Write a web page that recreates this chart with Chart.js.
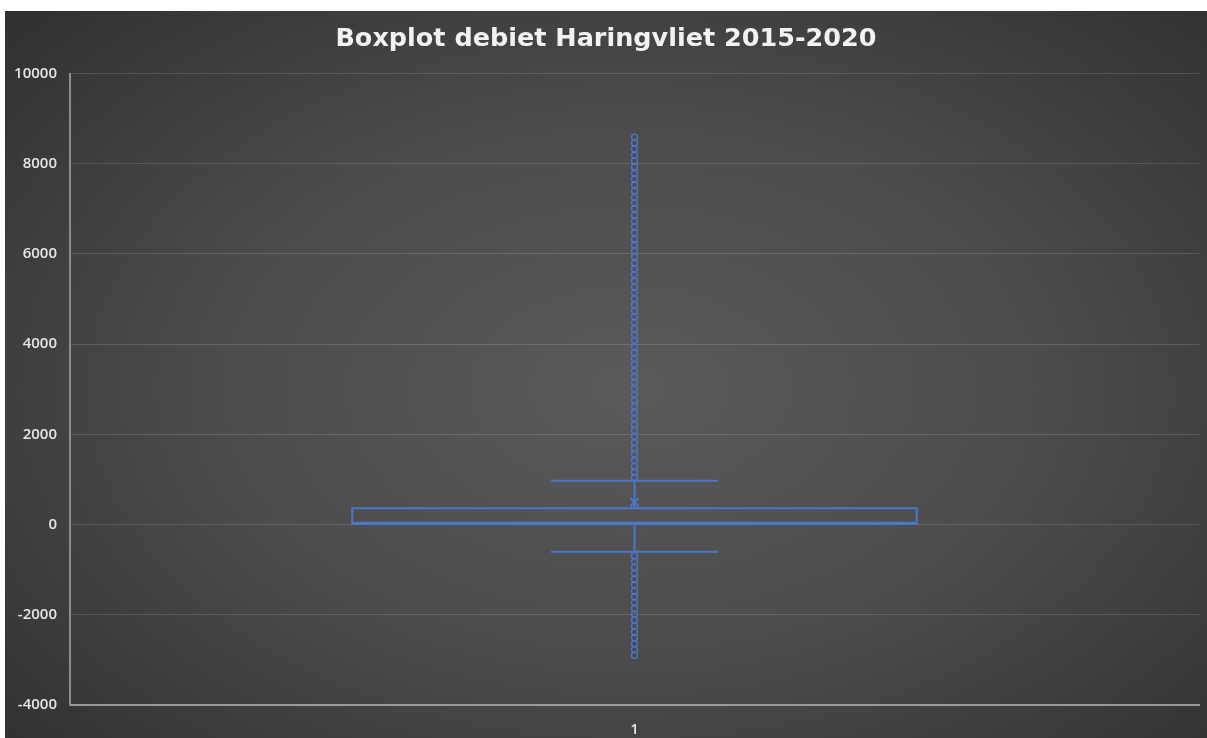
<!DOCTYPE html>
<html>
<head>
<meta charset="utf-8">
<script src="https://cdn.jsdelivr.net/npm/chart.js@4"></script>
<style>
  body { margin: 0; background: #ffffff; }
  #wrap {
    position: absolute; left: 5px; top: 11px; width: 1202px; height: 727px;
    background: radial-gradient(ellipse 75% 80% at 52% 52%, #5a5a5a 0%, #4c4c4c 45%, #2d2d2d 100%);
  }
</style>
</head>
<body>
<div id="wrap"><canvas id="boxChart" width="1202" height="727"></canvas></div>
<script>
// category and box statistics
const categories = ['1'];
const q1 = 15;
const median = 35;
const q3 = 360;
const mean = 495;
const whiskerHigh = 970;
const whiskerLow = -600;

// outliers above and below the whiskers
const outliersHigh = [1040, 1160, 1290, 1420, 1560, 1690, 1820, 1950, 2090, 2220, 2350, 2480, 2620, 2750,
  2880, 3010, 3150, 3280, 3410, 3550, 3680, 3810, 3940, 4080, 4210, 4340, 4480, 4610, 4740, 4870,
  5010, 5140, 5270, 5400, 5540, 5670, 5800, 5940, 6070, 6200, 6330, 6470, 6600, 6730, 6860, 7000,
  7130, 7260, 7400, 7530, 7660, 7790, 7930, 8060, 8190, 8330, 8460, 8590];
const outliersLow = [-690, -820, -950, -1080, -1210, -1340, -1470, -1600, -1730, -1860, -1990, -2120,
  -2250, -2380, -2510, -2640, -2770, -2900];

const yTicks = [-4000, -2000, 0, 2000, 4000, 6000, 8000, 10000];

const blue = '#4a76cc';
const boxHalf = 0.25;
const capHalf = 0.074;

// a polyline on the hidden linear axis that spans the one category
function path(points, width) {
    return { xAxisID: 'xl', data: points.map(p => ({ x: p[0], y: p[1] })),
        borderColor: blue, borderWidth: width || 2, pointRadius: 0, fill: false, tension: 0 };
}

const outlierPoints = outliersHigh.concat(outliersLow).map(v => ({ x: 0, y: v }));

new Chart(document.getElementById('boxChart'), {
    type: 'line',
    data: {
        labels: categories,
        datasets: [
            path([[-boxHalf, q1], [boxHalf, q1], [boxHalf, q3], [-boxHalf, q3], [-boxHalf, q1]]),
            path([[-boxHalf, median], [boxHalf, median]], 2.5),
            path([[0, q3], [0, whiskerHigh]]),
            path([[0, q1], [0, whiskerLow]]),
            path([[-capHalf, whiskerHigh], [capHalf, whiskerHigh]]),
            path([[-capHalf, whiskerLow], [capHalf, whiskerLow]]),
            {
                xAxisID: 'xl', showLine: false,
                data: outlierPoints,
                pointStyle: 'circle', pointRadius: 3, borderWidth: 1.3,
                borderColor: blue, backgroundColor: 'rgba(0,0,0,0)'
            },
            {
                xAxisID: 'xl', showLine: false,
                data: [{ x: 0, y: mean }],
                pointStyle: 'crossRot', pointRadius: 6, borderWidth: 2,
                borderColor: blue
            }
        ]
    },
    options: {
        responsive: false,
        animation: false,
        layout: { padding: { left: 0, right: 0, top: 0, bottom: 0 } },
        plugins: {
            legend: { display: false },
            tooltip: { enabled: false },
            title: {
                display: true,
                text: 'Boxplot debiet Haringvliet 2015-2020',
                color: '#f2f2f2',
                font: { family: 'DejaVu Sans', size: 25.5, weight: 'bold' },
                padding: { top: 13, bottom: 19 }
            }
        },
        scales: {
            x: {
                type: 'category',
                offset: true,
                grid: { display: false },
                border: { color: '#9a9a9a', width: 2 },
                ticks: { color: '#e6e6e6', font: { family: 'Open Sans', size: 15, weight: '600' }, padding: 8 },
                afterFit: axis => { axis.height = 33; }
            },
            xl: { type: 'linear', display: false, offset: false, min: -0.5, max: 0.5 },
            y: {
                min: -4000,
                max: 10000,
                afterBuildTicks: axis => { axis.ticks = yTicks.map(v => ({ value: v })); },
                grid: { color: 'rgba(255,255,255,0.14)', drawTicks: false },
                border: { color: '#8c8c8c', width: 2 },
                ticks: {
                    color: '#e6e6e6',
                    font: { family: 'Open Sans', size: 15, weight: '600' },
                    padding: 13,
                    callback: v => String(v)
                },
                afterFit: axis => { axis.width = 65; }
            }
        }
    }
});
</script>
</body>
</html>
